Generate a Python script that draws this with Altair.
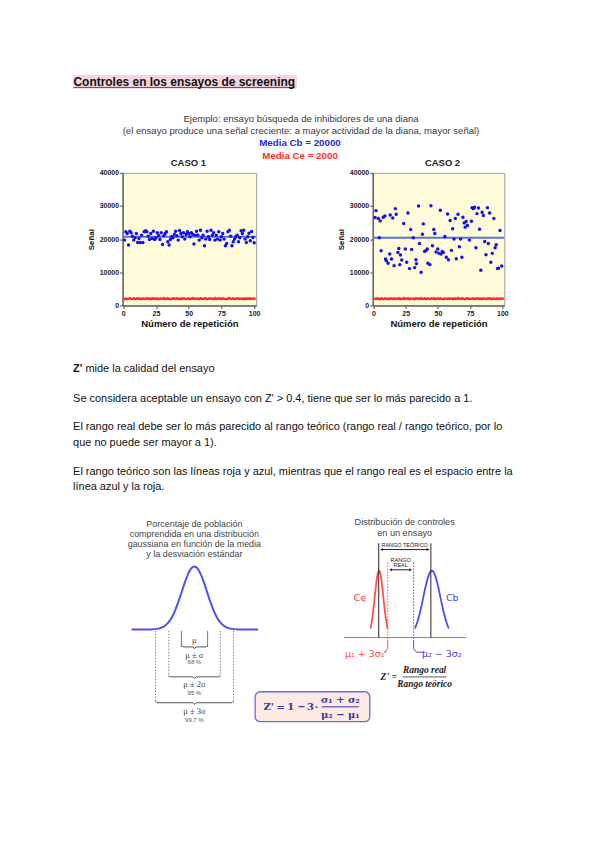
import altair as alt
import pandas as pd

# ------------------------------------------------------------------ data
TITLE = "Controles en los ensayos de screening"
HEADER_LINES = ["Ejemplo: ensayo búsqueda de inhibidores de una diana",
                "(el ensayo produce una señal creciente: a mayor actividad de la diana, mayor señal)"]
MEDIA_CB = "Media Cb = 20000"
MEDIA_CE = "Media Ce = 2000"
PANEL_TITLES = ["CASO 1", "CASO 2"]
X_TITLE = "Número de repetición"
Y_TITLE = "Señal"
X_TICKS = [0, 25, 50, 75, 100]
Y_TICKS = [0, 10000, 20000, 30000, 40000]

case1_cb = [19700, 22200, 21700, 18200, 22400, 21900, 20900, 19700, 20400, 21700,
            19000, 20200, 19000, 21200, 19000, 22200, 22500, 22200, 20900, 19900,
            21700, 20200, 22400, 19900, 20400, 21900, 21100, 19900, 21900, 18400,
            21000, 21700, 22200, 19200, 18200, 19900, 20700, 20400, 21500, 22400,
            21000, 19700, 22600, 21700, 20700, 21900, 20000, 21400, 22200, 21700,
            20700, 21900, 21500, 18500, 21200, 22400, 21200, 19700, 22700, 20400,
            21200, 18000, 20000, 22400, 20700, 19900, 22700, 21200, 21900, 19700,
            21200, 20000, 22200, 19700, 20700, 21700, 20000, 18000, 18700, 22200,
            22700, 20900, 18000, 19200, 20000, 20700, 21200, 19200, 20400, 22500,
            21700, 22700, 20000, 19000, 20700, 21800, 19500, 22300, 20500, 18900]
case1_ce = [1950, 2100, 1880, 2050, 2200, 1900, 1980, 2150, 1850, 2020,
            2180, 1940, 2060, 1870, 2120, 2000, 1910, 2230, 1960, 2080,
            1830, 2140, 1990, 2070, 1920, 2190, 1860, 2040, 2110, 1970,
            2210, 1890, 2030, 2160, 1940, 1880, 2090, 2010, 2170, 1900,
            2130, 1950, 2060, 1840, 2200, 1980, 2100, 1920, 2050, 2150,
            1870, 2010, 2240, 1930, 2080, 1960, 2120, 1890, 2170, 2000,
            1910, 2070, 2190, 1850, 2030, 2140, 1970, 2090, 1880, 2210,
            1940, 2060, 2000, 2130, 1900, 2180, 1960, 2040, 1870, 2100,
            2220, 1930, 2020, 2150, 1890, 2080, 1990, 2160, 1920, 2050,
            2110, 1860, 2190, 1950, 2070, 2010, 2140, 1900, 2030, 2120]
case2_cb_rep = [1.3, 2, 3.8, 4.6, 5.3, 6, 7.6, 8.9, 9.4, 10,
                11.4, 12.7, 13, 14, 15, 16, 17, 17.7, 19, 19.7,
                20.5, 21, 22, 23.5, 24.8, 25.8, 26.8, 28, 28.9, 29.6,
                30.9, 32, 33, 33.4, 35, 35.7, 37, 38, 38.7, 39.7,
                40.8, 41.8, 42.3, 43.8, 44.6, 45.8, 46.8, 47.6, 48.6, 49.9,
                50.9, 51.9, 52.4, 53.4, 54.2, 55.4, 56.5, 57.5, 58.2, 59.5,
                60.5, 61.5, 62.5, 63.5, 64.3, 65.6, 66.6, 67.6, 68.6, 69.4,
                70.4, 71.1, 71.9, 72.9, 74.4, 76, 76.5, 77.5, 78.5, 79.5,
                80.3, 81.5, 82.3, 83.3, 84.3, 85.3, 86.3, 87.3, 88.4, 89.1,
                90.1, 91.1, 92.2, 93.4, 94.4, 95.2, 96.2, 97, 98.2, 99.5]
case2_cb = [26500, 28600, 26200, 20400, 25500, 16500, 26600, 27000, 14000, 13500,
            12700, 15500, 27300, 14000, 26400, 12000, 29200, 27500, 16000, 17200,
            12300, 15200, 13700, 24700, 17000, 13000, 27900, 11100, 22900, 16900,
            20400, 11400, 13800, 12600, 30000, 18700, 10000, 21500, 24600, 16300,
            16600, 17000, 12700, 12300, 30100, 18000, 22900, 21700, 16100, 17000,
            15700, 28700, 15500, 16300, 16000, 20800, 14500, 27600, 13800, 25600,
            16600, 23100, 20000, 26200, 14100, 27500, 17700, 20000, 14500, 26600,
            24900, 23600, 25300, 24100, 19700, 25400, 29500, 29200, 29600, 17400,
            27700, 29400, 23000, 10600, 28100, 27100, 19300, 15300, 29500, 18700,
            27900, 13000, 15700, 26200, 17400, 18300, 11100, 11200, 22600, 11900]
case2_ce = [2050, 1920, 2130, 1980, 1870, 2160, 2010, 1900, 2200, 1950,
            2080, 1860, 2140, 2020, 1930, 2190, 1890, 2060, 2000, 2170,
            1840, 2110, 1960, 2230, 1910, 2040, 2150, 1880, 2090, 1970,
            2120, 1850, 2180, 1990, 2070, 1920, 2210, 1940, 2030, 2160,
            1870, 2100, 2010, 1900, 2140, 1960, 2200, 1880, 2050, 2120,
            1930, 2170, 1990, 1860, 2080, 2030, 1910, 2190, 1950, 2110,
            2000, 1870, 2150, 1940, 2060, 2220, 1900, 2020, 2130, 1980,
            1850, 2090, 2170, 1920, 2040, 1960, 2180, 1890, 2070, 2010,
            2140, 1930, 2100, 1880, 2200, 1970, 2050, 1910, 2160, 1990,
            2080, 1860, 2120, 2030, 1950, 2190, 1900, 2060, 2000, 2110]
cb_means = [20700, 20400]
ce_mean = 2000

PARAGRAPHS = ["Z'", "mide la calidad del ensayo",
              "Se considera aceptable un ensayo con Z' > 0.4, tiene que ser lo más parecido a 1.",
              "El rango real debe ser lo más parecido al rango teórico (rango real / rango teórico, por lo",
              "que no puede ser mayor a 1).",
              "El rango teórico son las líneas roja y azul, mientras que el rango real es el espacio entre la",
              "línea azul y la roja."]
GAUSS_TITLE = ["Porcentaje de población", "comprendida en una distribución",
               "gaussiana en función de la media", "y la desviación estándar"]
GAUSS_LABELS = ["μ", "μ ± σ", "μ ± 2σ", "μ ± 3σ"]
GAUSS_PCT = ["68 %", "95 %", "99.7 %"]
CTRL_TITLE = ["Distribución de controles", "en un ensayo"]
CTRL_TEXT = ["RANGO TEÓRICO", "RANGO", "REAL", "Ce", "Cb", "μ₁ + 3σ₁", "μ₂ − 3σ₂"]
ZP_RATIO = ["Z' =", "Rango real", "Rango teórico"]
ZP_FORMULA = ["Z'", "=", "1", "−", "3", "·", "σ₁ + σ₂", "μ₂ − μ₁"]

# bell shape (relative height vs offset in sigmas)
bell_offsets = [-4.0, -3.5, -3.0, -2.75, -2.5, -2.25, -2.0, -1.75, -1.5, -1.25, -1.0, -0.75,
                -0.5, -0.25, 0.0, 0.25, 0.5, 0.75, 1.0, 1.25, 1.5, 1.75, 2.0, 2.25, 2.5,
                2.75, 3.0, 3.5, 4.0]
bell_heights = [0.0, 0.002, 0.011, 0.023, 0.044, 0.08, 0.135, 0.216, 0.325, 0.458, 0.607, 0.755,
                0.882, 0.969, 1.0, 0.969, 0.882, 0.755, 0.607, 0.458, 0.325, 0.216, 0.135, 0.08,
                0.044, 0.023, 0.011, 0.002, 0.0]

# ------------------------------------------------------------------ helpers
W = 584
SANS = "Liberation Sans"
SERIF = "Liberation Serif"


def sx():
    return alt.Scale(domain=[8, 8 + W], range=[0, W], nice=False, zero=False)


def sy(top, h):
    return alt.Scale(domain=[top, top + h], range=[0, h], nice=False, zero=False)


def txt(rows, top, h, **kw):
    df = pd.DataFrame(rows, columns=["t", "x", "y"])
    kw.setdefault("baseline", "middle")
    kw.setdefault("font", SANS)
    return alt.Chart(df).mark_text(**kw).encode(
        x=alt.X("x:Q", scale=sx(), axis=None),
        y=alt.Y("y:Q", scale=sy(top, h), axis=None),
        text="t:N")


def seg(rows, top, h, **kw):
    df = pd.DataFrame(rows, columns=["x", "y", "x2", "y2"])
    return alt.Chart(df).mark_rule(**kw).encode(
        x=alt.X("x:Q", scale=sx(), axis=None),
        y=alt.Y("y:Q", scale=sy(top, h), axis=None),
        x2="x2:Q", y2="y2:Q")


def box(rows, top, h, **kw):
    df = pd.DataFrame(rows, columns=["x", "y", "x2", "y2"])
    return alt.Chart(df).mark_rect(**kw).encode(
        x=alt.X("x:Q", scale=sx(), axis=None),
        y=alt.Y("y:Q", scale=sy(top, h), axis=None),
        x2="x2:Q", y2="y2:Q")


def pts(rows, top, h, **kw):
    df = pd.DataFrame(rows, columns=["x", "y"])
    return alt.Chart(df).mark_point(**kw).encode(
        x=alt.X("x:Q", scale=sx(), axis=None),
        y=alt.Y("y:Q", scale=sy(top, h), axis=None))


def bell(mu, sigma, base, peak, lo, hi, top, h, extend=None, **kw):
    xs, ys = [], []
    if extend:
        xs.append(extend[0]); ys.append(base)
    for o, v in zip(bell_offsets, bell_heights):
        if lo <= o <= hi:
            xs.append(mu + o * sigma)
            ys.append(base - v * (base - peak))
    if extend:
        xs.append(extend[1]); ys.append(base)
    df = pd.DataFrame({"x": xs, "y": ys, "o": list(range(len(xs)))})
    return alt.Chart(df).mark_line(interpolate="monotone", **kw).encode(
        x=alt.X("x:Q", scale=sx(), axis=None),
        y=alt.Y("y:Q", scale=sy(top, h), axis=None),
        order="o:Q")


# ------------------------------------------------------------------ row A (header)
A_TOP, A_H = 8, 163
rowA = alt.layer(
    box([(72, 72.7, 297, 86.7)], A_TOP, A_H, color="#f3d6e0"),
    seg([(72.7, 85.3, 295, 85.3)], A_TOP, A_H, color="#333333", strokeWidth=0.8),
    txt([(TITLE, 72.7, 80)], A_TOP, A_H, align="left", fontSize=12, fontWeight="bold", color="#111111"),
    txt([(HEADER_LINES[0], 301, 117), (HEADER_LINES[1], 301, 129.5)], A_TOP, A_H,
        align="center", fontSize=9.6, color="#3a3a3a"),
    txt([(MEDIA_CB, 300, 141.5)], A_TOP, A_H, align="center", fontSize=9.8, fontWeight="bold", color="#2828dc"),
    txt([(MEDIA_CE, 300, 153.7)], A_TOP, A_H, align="center", fontSize=9.8, fontWeight="bold", color="#ff2a2a"),
    txt([(PANEL_TITLES[0], 188, 161), (PANEL_TITLES[1], 443, 161)], A_TOP, A_H,
        align="center", fontSize=9.5, fontWeight="bold", color="#222222"),
).properties(width=W, height=A_H)

# ------------------------------------------------------------------ row B (scatter panels)
B_H = 133


def axis_common(**kw):
    return alt.Axis(grid=False, domainColor="#666666", domainWidth=1.5, tickColor="#666666",
                    tickSize=3, tickWidth=1.2, labelFont=SANS, labelFontSize=7,
                    labelFontWeight="bold", labelColor="#222222", labelFlush=False,
                    labelOverlap=False, format="d", titleFont=SANS, titleFontWeight="bold",
                    titleColor="#111111", **kw)


def scatter(cb_rep, cb_vals, ce_vals, cb_mean, width):
    xs = alt.Scale(domain=[-0.5, 101.5], nice=False, zero=False)
    ys = alt.Scale(domain=[0, 40000], nice=False, zero=False)
    xax = axis_common(values=X_TICKS, title=X_TITLE, titleFontSize=9.5, labelPadding=1, titlePadding=2)
    yax = axis_common(values=Y_TICKS, title=Y_TITLE, titleFontSize=8, labelPadding=1, titlePadding=4)
    df_cb = pd.DataFrame({"rep": cb_rep, "val": cb_vals})
    df_ce = pd.DataFrame({"rep": list(range(1, len(ce_vals) + 1)), "val": ce_vals})
    x = alt.X("rep:Q", scale=xs, axis=xax)
    y = alt.Y("val:Q", scale=ys, axis=yax)
    ym = alt.Y("m:Q", scale=ys, axis=yax)
    ce_line = alt.Chart(df_ce).mark_line(color="#ff4040", strokeWidth=1.2).encode(x=x, y=y)
    ce_pts = alt.Chart(df_ce).mark_circle(size=6, color="#ff2a2a", opacity=1).encode(x=x, y=y)
    ce_rule = alt.Chart(pd.DataFrame({"m": [ce_mean]})).mark_rule(color="#ff3030", strokeWidth=1.5).encode(y=ym)
    cb_rule = alt.Chart(pd.DataFrame({"m": [cb_mean]})).mark_rule(color="#5b6fe6", strokeWidth=2).encode(y=ym)
    cb_pts = alt.Chart(df_cb).mark_circle(size=12, color="#1010ee", opacity=1).encode(x=x, y=y)
    return alt.layer(ce_line, ce_rule, ce_pts, cb_rule, cb_pts).properties(
        width=width, height=B_H,
        view=alt.ViewBackground(fill="#fdfbd9", stroke="#a0a0a0", strokeWidth=1))


def spacer(width, height):
    # invisible, zero-size point placed well inside the spacer so it never widens the bounds
    return alt.Chart(pd.DataFrame({"v": [0]})).mark_point(opacity=0, size=0).encode(
        x=alt.value(width / 2), y=alt.value(height / 2)).properties(width=width, height=height)


rowB = alt.hconcat(
    spacer(114, B_H),
    scatter(list(range(1, len(case1_cb) + 1)), case1_cb, case1_ce, cb_means[0], 134),
    spacer(117, B_H),
    scatter(case2_cb_rep, case2_cb, case2_ce, cb_means[1], 132),
    spacing=0, bounds="flush")

# ------------------------------------------------------------------ row C (text + diagrams)
C_TOP, C_H = 304, 528
T, H = C_TOP, C_H

layers = []
# paragraphs
layers.append(txt([(PARAGRAPHS[0], 72.3, 368.3)], T, H, align="left", fontSize=11, fontWeight="bold", color="#111111"))
layers.append(txt([(PARAGRAPHS[1], 84.7, 368.3), (PARAGRAPHS[2], 72.3, 397.7), (PARAGRAPHS[3], 72.3, 426),
                   (PARAGRAPHS[4], 72.3, 442.3), (PARAGRAPHS[5], 72.3, 470.7), (PARAGRAPHS[6], 72.3, 486.7)],
                  T, H, align="left", fontSize=11, color="#111111"))

# left diagram: gaussian
layers.append(txt([(GAUSS_TITLE[0], 194, 523.3), (GAUSS_TITLE[1], 194, 533.3),
                   (GAUSS_TITLE[2], 194, 543.3), (GAUSS_TITLE[3], 194, 553.3)],
                  T, H, align="center", fontSize=9, color="#444444"))
layers.append(bell(194, 12.5, 629.3, 566, -4, 4, T, H, extend=(131, 258), color="#5050ee", strokeWidth=2))
base_y = 630.5
layers.append(seg([(181, base_y, 181, 646.7), (207.3, base_y, 207.3, 646.7)], T, H,
                  color="#555555", strokeWidth=0.8))
layers.append(seg([(168.3, base_y, 168.3, 676.7), (220, base_y, 220, 676.7),
                   (155, base_y, 155, 702.7), (233.3, base_y, 233.3, 702.7)], T, H,
                  color="#666666", strokeWidth=0.8, strokeDash=[1.5, 1.5]))
brace_rows = []
for xl, xr, yb in [(181, 207.3, 646.7), (168.3, 220, 676.7), (155, 233.3, 702.7)]:
    xm = (xl + xr) / 2
    brace_rows += [(xl, yb - 1.5, xl + 1.5, yb), (xl + 1.5, yb, xm - 1.5, yb), (xm - 1.5, yb, xm, yb + 1.8),
                   (xm, yb + 1.8, xm + 1.5, yb), (xm + 1.5, yb, xr - 1.5, yb), (xr - 1.5, yb, xr, yb - 1.5)]
layers.append(seg(brace_rows, T, H, color="#444444", strokeWidth=0.9))
layers.append(txt([(GAUSS_LABELS[0], 194, 639.3), (GAUSS_LABELS[1], 194, 654.5),
                   (GAUSS_LABELS[2], 194, 683.5), (GAUSS_LABELS[3], 194, 711.5)],
                  T, H, align="center", fontSize=8.5, font=SERIF, color="#444444"))
layers.append(txt([(GAUSS_PCT[0], 194, 661.8), (GAUSS_PCT[1], 194, 692.5), (GAUSS_PCT[2], 194, 720.5)],
                  T, H, align="center", fontSize=6, color="#555555"))

# right diagram: controls
layers.append(txt([(CTRL_TITLE[0], 405, 521.7), (CTRL_TITLE[1], 405, 532.7)],
                  T, H, align="center", fontSize=9.2, color="#444444"))
layers.append(seg([(344, 637.3, 467, 637.3)], T, H, color="#888888", strokeWidth=1))
layers.append(bell(379.3, 4.3, 637.3, 570, -2, 2, T, H, color="#ff5050", strokeWidth=1.8))
layers.append(bell(432.3, 8.5, 637.3, 570, -2, 2, T, H, color="#4d4dee", strokeWidth=1.8))
layers.append(seg([(379, 542.7, 379, 637.3), (431.3, 542.7, 431.3, 637.3),
                   (381, 549, 429.3, 549), (390.5, 569.3, 411.5, 569.3)], T, H,
                  color="#222222", strokeWidth=1))
layers.append(pts([(382, 549), (391, 569.3)], T, H, shape="triangle-left", filled=True, size=9,
                  color="#222222", opacity=1))
layers.append(pts([(428.3, 549), (411, 569.3)], T, H, shape="triangle-right", filled=True, size=9,
                  color="#222222", opacity=1))
layers.append(txt([(CTRL_TEXT[0], 405, 544), (CTRL_TEXT[1], 401, 559.3), (CTRL_TEXT[2], 401, 564.8)],
                  T, H, align="center", fontSize=5.5, color="#222222"))
layers.append(seg([(388, 562, 388, 642)], T, H, color="#ff5050", strokeWidth=1, strokeDash=[1.5, 1.5]))
layers.append(seg([(414, 562, 414, 642)], T, H, color="#4d4dee", strokeWidth=1, strokeDash=[1.5, 1.5]))
layers.append(seg([(388, 641, 388, 648), (388, 648, 385.5, 651.5)], T, H, color="#ff5050", strokeWidth=1))
layers.append(seg([(414, 641, 414, 648.5), (414, 648.5, 417, 652), (417, 652, 423.5, 652)], T, H,
                  color="#4d4dee", strokeWidth=1))
layers.append(pts([(385, 651.7)], T, H, shape="triangle-left", filled=True, size=8, color="#ff5050", opacity=1))
layers.append(pts([(424.5, 652)], T, H, shape="triangle-right", filled=True, size=8, color="#4d4dee", opacity=1))
layers.append(txt([(CTRL_TEXT[3], 360, 597.3), (CTRL_TEXT[5], 365, 654.3)], T, H,
                  align="center", fontSize=9.5, font="DejaVu Sans", color="#ff4545"))
layers.append(txt([(CTRL_TEXT[4], 452.7, 597.3), (CTRL_TEXT[6], 442.3, 654.3)], T, H,
                  align="center", fontSize=9.5, font="DejaVu Sans", color="#4545e6"))
layers.append(txt([(ZP_RATIO[0], 389, 677), (ZP_RATIO[1], 425, 670.3), (ZP_RATIO[2], 425, 683.5)], T, H,
                  align="center", fontSize=9.5, font=SERIF, fontWeight="bold", fontStyle="italic",
                  color="#222222"))
layers.append(seg([(403, 676.8, 447, 676.8)], T, H, color="#333333", strokeWidth=0.8))

# formula box
layers.append(box([(255, 691.7, 370, 721.7)], T, H, fill="#fdeae2", stroke="#6a6adf", strokeWidth=1.3,
                  cornerRadius=5))
layers.append(txt([(ZP_FORMULA[0], 268.5, 707), (ZP_FORMULA[1], 280.5, 707), (ZP_FORMULA[2], 290.7, 707),
                   (ZP_FORMULA[3], 301.5, 707), (ZP_FORMULA[4], 310.5, 707), (ZP_FORMULA[5], 316.5, 707),
                   (ZP_FORMULA[6], 340.5, 699.5), (ZP_FORMULA[7], 340.5, 715)], T, H,
                  align="center", fontSize=10, font="DejaVu Serif", fontWeight="bold", color="#3535a8"))
layers.append(seg([(322, 706.8, 359, 706.8)], T, H, color="#3535a8", strokeWidth=1))

rowC = alt.layer(*layers).properties(width=W, height=C_H)

# the nested panel row is laid out flush, so a spacer row reserves its height
chart = alt.vconcat(rowA, rowB, spacer(W, B_H), rowC, spacing=0, bounds="flush").properties(
    padding=0).configure_view(stroke="transparent")

chart.save("out.html", embed_options={"renderer": "svg", "actions": False})
